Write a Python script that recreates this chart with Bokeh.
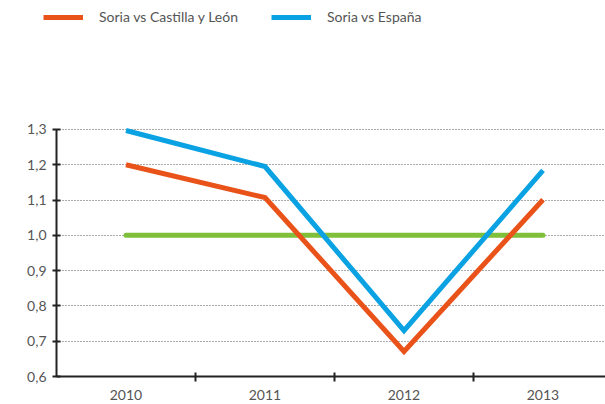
from bokeh.plotting import figure
from bokeh.models import (Range1d, FixedTicker, CustomJSTickFormatter, Legend, LegendItem,
                          ColumnDataSource, LinearAxis)
from bokeh.embed import file_html
from bokeh.resources import INLINE

years = ["2010", "2011", "2012", "2013"]
soria_cyl = [1.200, 1.107, 0.671, 1.101]
soria_esp = [1.297, 1.195, 0.730, 1.184]
reference = [1.0, 1.0, 1.0, 1.0]
y_ticks = [0.6, 0.7, 0.8, 0.9, 1.0, 1.1, 1.2, 1.3]
series_names = ["Soria vs Castilla y León", "Soria vs España"]

FONT = "Lato"
TXT = "#555555"
AXC = "#222222"
C_CYL = "#e9531a"
C_ESP = "#0aa2e2"
C_REF = "#7fbf3a"

xpos = [i + 0.5 for i in range(len(years))]
src = ColumnDataSource(dict(x=xpos, cyl=soria_cyl, esp=soria_esp, ref=reference))

X_END = len(years) - 0.0504
Y0 = y_ticks[0]
p = figure(width=605, height=404, output_backend="svg", toolbar_location=None,
           x_range=Range1d(-0.4029, X_END), y_range=Range1d(0.5207, 1.6655),
           x_axis_location=None, y_axis_location=None,
           min_border_left=0, min_border_right=0, min_border_top=0, min_border_bottom=0)
p.outline_line_color = None
p.background_fill_color = "white"

p.line("x", "ref", source=src, line_color=C_REF, line_width=5, line_cap="round")
r_esp = p.line("x", "esp", source=src, line_color=C_ESP, line_width=5, line_cap="butt", line_join="miter")
r_cyl = p.line("x", "cyl", source=src, line_color=C_CYL, line_width=5, line_cap="butt", line_join="miter")

xa = LinearAxis(fixed_location=Y0)
xa.ticker = FixedTicker(ticks=xpos, minor_ticks=[1, 2, 3])
xa.major_label_overrides = {x: y for x, y in zip(xpos, years)}
xa.bounds = (0, X_END)
xa.major_tick_out = 0
xa.major_tick_in = 0
xa.minor_tick_out = 5
xa.minor_tick_in = 4
xa.minor_tick_line_color = AXC
xa.minor_tick_line_width = 2
xa.axis_line_color = AXC
xa.axis_line_width = 2
xa.major_label_text_font = FONT
xa.major_label_text_font_size = "14px"
xa.major_label_text_color = TXT
xa.major_label_standoff = 8
p.add_layout(xa, "below")

ya = LinearAxis(fixed_location=0)
ya.ticker = FixedTicker(ticks=y_ticks)
ya.formatter = CustomJSTickFormatter(code="return tick.toFixed(1).replace('.', ',');")
ya.bounds = (Y0, y_ticks[-1])
ya.axis_line_color = AXC
ya.axis_line_width = 2
ya.major_tick_line_color = AXC
ya.major_tick_line_width = 2
ya.major_tick_out = 4
ya.major_tick_in = 4
ya.minor_tick_line_color = None
ya.major_label_text_font = FONT
ya.major_label_text_font_size = "14px"
ya.major_label_text_color = TXT
ya.major_label_standoff = 6
p.add_layout(ya, "left")

p.xgrid.grid_line_color = None
p.ygrid.ticker = FixedTicker(ticks=y_ticks[1:])
p.ygrid.cross_bounds = (0, X_END)
p.ygrid.grid_line_color = "#555555"
p.ygrid.grid_line_dash = "1 2"
p.ygrid.grid_line_width = 1

legend = Legend(items=[LegendItem(label=series_names[0], renderers=[r_cyl]),
                       LegendItem(label=series_names[1], renderers=[r_esp])],
                location=(43, 379), orientation="horizontal",
                label_text_font=FONT, label_text_font_size="14px", label_text_color=TXT,
                glyph_width=40, glyph_height=16, label_height=16, label_standoff=16,
                spacing=33, padding=0, margin=0, border_line_color=None,
                background_fill_alpha=0)
p.add_layout(legend, "center")

open("out.html", "w").write(file_html(p, INLINE))
